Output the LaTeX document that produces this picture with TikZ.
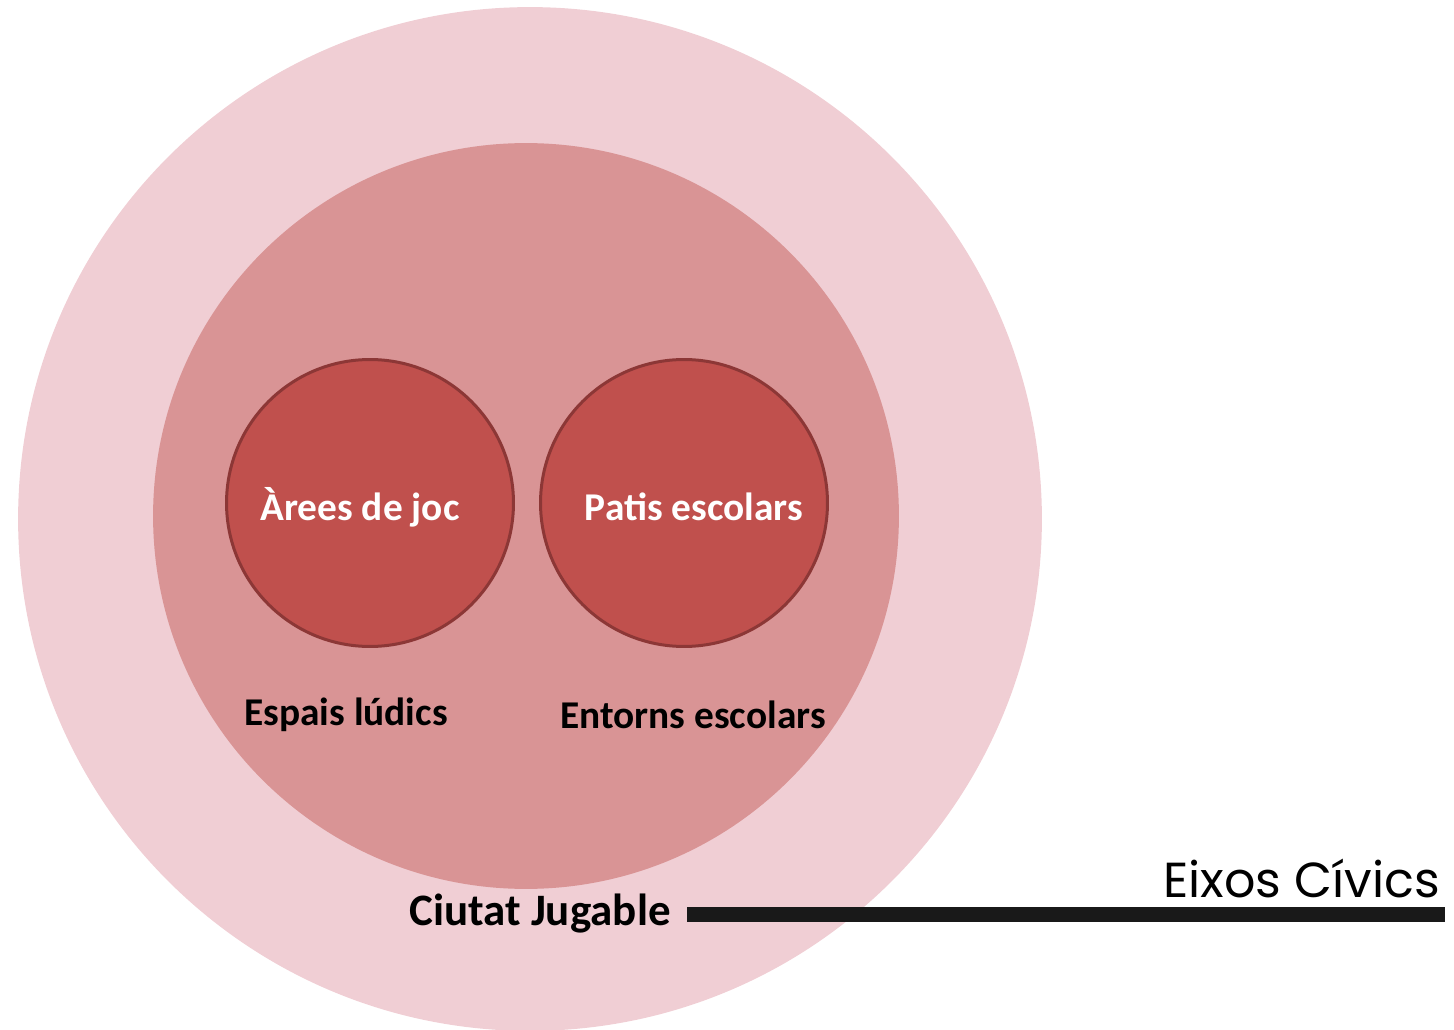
\documentclass[tikz,border=0pt]{standalone}
\usepackage{fontspec}
\setmainfont{Carlito}
\newfontfamily\axisfont{Poppins}
\usetikzlibrary{positioning}

\definecolor{ringpink}{RGB}{240,206,212}
\definecolor{zonerose}{RGB}{217,148,149}
\definecolor{spotred}{RGB}{192,80,77}
\definecolor{spotedge}{RGB}{140,55,54}

\begin{document}
\begin{tikzpicture}[
    x=0.02cm,
    y=-0.02cm,
    ring/.style={
        circle,
        fill=ringpink,
        inner sep=0pt,
        minimum size=20.48cm
    },
    zone/.style={
        circle,
        fill=zonerose,
        inner sep=0pt,
        minimum size=14.92cm
    },
    spot/.style={
        circle,
        draw=spotedge,
        line width=0.06cm,
        fill=spotred,
        inner sep=0pt,
        minimum size=5.74cm
    },
    spottext/.style={
        text=white,
        font=\bfseries\fontsize{22.4}{26}\selectfont
    },
    caption/.style={
        text=black,
        font=\bfseries\fontsize{22.4}{26}\selectfont
    },
    bar/.style={
        draw=black!90,
        line width=0.3cm
    }
]
\useasboundingbox (0,0) rectangle (1454,1030);

% Circles
\node [ring] (city) at (530,519) {};
\node [zone] (school) at (526,516) {};
\node [spot] (play) at (370,503) {};
\node [spot] (yard) at (684,503) {};

% Labels
\node [spottext] (playtext) at (360,507) {Àrees de joc};
\node [spottext] (yardtext) at (694,507) {Patis escolars};
\node [caption] (ludic) at (346,715) {Espais lúdics};
\node [caption] (entorns) at (693,715) {Entorns escolars};
\node [caption, inner sep=0.32cm, font=\bfseries\fontsize{25.6}{30}\selectfont] (ciutat) at (540,914) {Ciutat Jugable};
\coordinate (barend) at (1445,914);
\node [anchor=base east, font=\axisfont\fontsize{28}{33}\selectfont] (eixos) at (1446,897) {Eixos Cívics};

% Edges
\draw [bar] (ciutat.east) -- (ciutat.east -| barend);

\end{tikzpicture}
\end{document}
